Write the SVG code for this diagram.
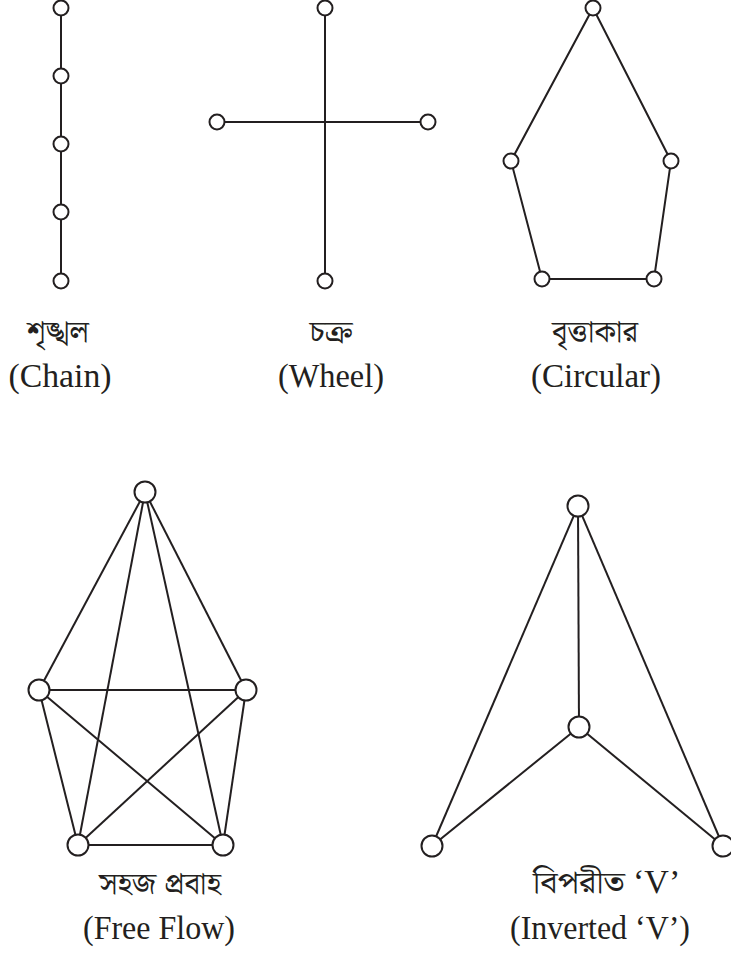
<svg xmlns="http://www.w3.org/2000/svg" width="731" height="953" viewBox="0 0 731 953">
<style>
.e{stroke:#231f20;stroke-width:2;fill:none}
.n{fill:#fff;stroke:#231f20;stroke-width:2}
.bn{font-family:"Noto Serif Bengali","Noto Sans Bengali","Lohit Bengali","FreeSerif",serif;font-size:31px;fill:#231f20;text-anchor:middle}
.en{font-family:"Liberation Serif","Times New Roman",serif;font-size:34px;fill:#231f20;text-anchor:middle}
</style>
<rect width="731" height="953" fill="#fff"/>
<g id="connectors">
  <line class="e" x1="61" y1="8" x2="61" y2="281"/>
  <line class="e" x1="325" y1="8" x2="325" y2="281"/>
  <line class="e" x1="217" y1="122" x2="428" y2="122"/>
  <polygon class="e" points="593,8 671,161 654,279 542,279 511,161"/>
  <line class="e" x1="145" y1="492" x2="39" y2="690"/>
  <line class="e" x1="145" y1="492" x2="246" y2="690"/>
  <line class="e" x1="145" y1="492" x2="78" y2="845"/>
  <line class="e" x1="145" y1="492" x2="223" y2="845"/>
  <line class="e" x1="39" y1="690" x2="246" y2="690"/>
  <line class="e" x1="39" y1="690" x2="78" y2="845"/>
  <line class="e" x1="39" y1="690" x2="223" y2="845"/>
  <line class="e" x1="246" y1="690" x2="78" y2="845"/>
  <line class="e" x1="246" y1="690" x2="223" y2="845"/>
  <line class="e" x1="78" y1="845" x2="223" y2="845"/>
  <line class="e" x1="578" y1="506" x2="579" y2="727"/>
  <line class="e" x1="578" y1="506" x2="432" y2="846"/>
  <line class="e" x1="578" y1="506" x2="723" y2="846"/>
  <line class="e" x1="579" y1="727" x2="432" y2="846"/>
  <line class="e" x1="579" y1="727" x2="723" y2="846"/>
</g>
<g id="chain">
  <circle class="n" cx="61" cy="8" r="7.5"/>
  <circle class="n" cx="61" cy="76" r="7.5"/>
  <circle class="n" cx="61" cy="144" r="7.5"/>
  <circle class="n" cx="61" cy="212" r="7.5"/>
  <circle class="n" cx="61" cy="281" r="7.5"/>
  <text class="bn" x="58" y="342" textLength="62" lengthAdjust="spacingAndGlyphs">শৃঙ্খল</text>
  <text class="en" x="60" y="387" textLength="103" lengthAdjust="spacingAndGlyphs">(Chain)</text>
</g>
<g id="wheel">
  <circle class="n" cx="325" cy="8" r="7.5"/>
  <circle class="n" cx="217" cy="122" r="7.5"/>
  <circle class="n" cx="428" cy="122" r="7.5"/>
  <circle class="n" cx="325" cy="281" r="7.5"/>
  <text class="bn" x="331" y="342" textLength="43" lengthAdjust="spacingAndGlyphs">চক্র</text>
  <text class="en" x="331" y="387" textLength="106" lengthAdjust="spacingAndGlyphs">(Wheel)</text>
</g>
<g id="circular">
  <circle class="n" cx="593" cy="8" r="7.5"/>
  <circle class="n" cx="511" cy="161" r="7.5"/>
  <circle class="n" cx="671" cy="161" r="7.5"/>
  <circle class="n" cx="542" cy="279" r="7.5"/>
  <circle class="n" cx="654" cy="279" r="7.5"/>
  <text class="bn" x="595" y="342" textLength="86" lengthAdjust="spacingAndGlyphs">বৃত্তাকার</text>
  <text class="en" x="596" y="387" textLength="130" lengthAdjust="spacingAndGlyphs">(Circular)</text>
</g>
<g id="freeflow">
  <circle class="n" cx="145" cy="492" r="10.5"/>
  <circle class="n" cx="39" cy="690" r="10.5"/>
  <circle class="n" cx="246" cy="690" r="10.5"/>
  <circle class="n" cx="78" cy="845" r="10.5"/>
  <circle class="n" cx="223" cy="845" r="10.5"/>
  <text class="bn" x="160" y="894" textLength="122" lengthAdjust="spacingAndGlyphs">সহজ প্রবাহ</text>
  <text class="en" x="159" y="939" textLength="152" lengthAdjust="spacingAndGlyphs">(Free Flow)</text>
</g>
<g id="invertedv">
  <circle class="n" cx="578" cy="506" r="10.5"/>
  <circle class="n" cx="579" cy="727" r="10.5"/>
  <circle class="n" cx="432" cy="846" r="10.5"/>
  <circle class="n" cx="723" cy="846" r="10.5"/>
  <text class="bn" x="533" y="893" text-anchor="start" textLength="92" lengthAdjust="spacingAndGlyphs" style="text-anchor:start">বিপরীত</text>
  <text class="en" x="633" y="893" style="text-anchor:start">‘V’</text>
  <text class="en" x="600" y="939" textLength="180" lengthAdjust="spacingAndGlyphs">(Inverted ‘V’)</text>
</g>
</svg>
